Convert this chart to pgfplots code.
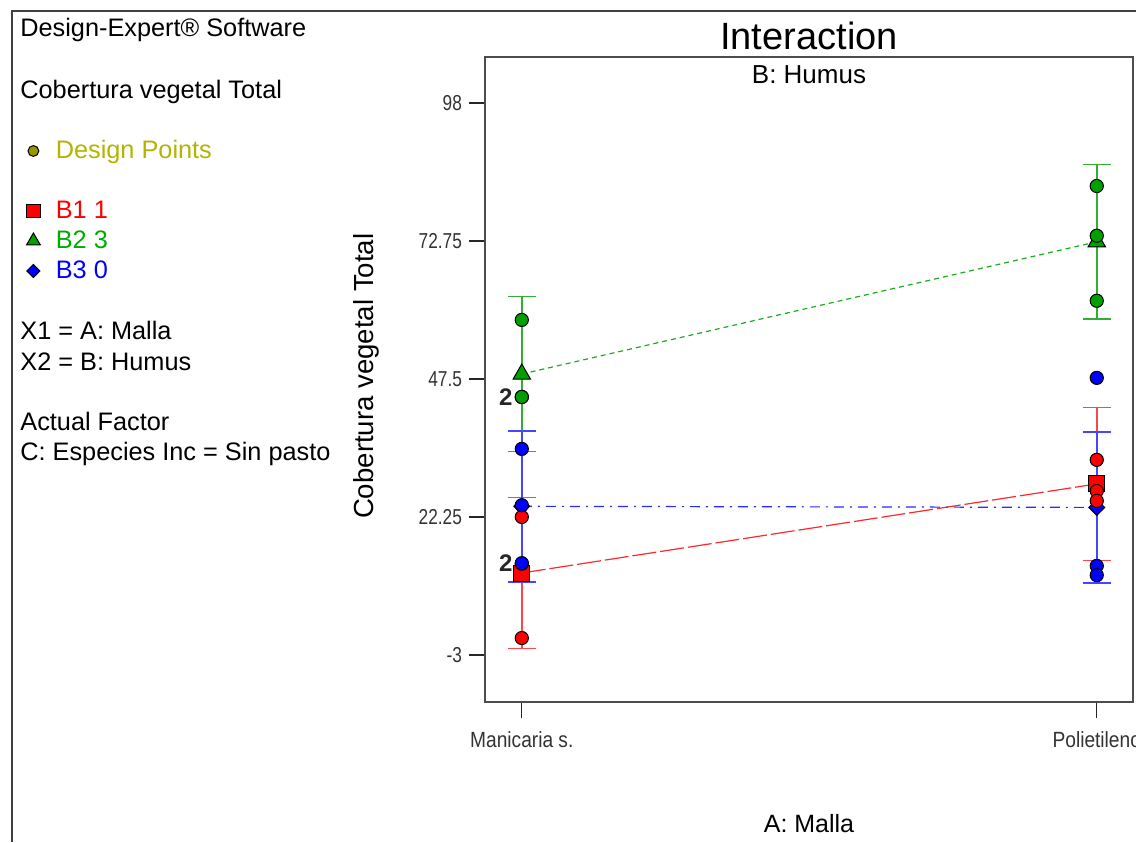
\documentclass[border=0pt]{standalone}
\usepackage{fontspec}
\setmainfont{Liberation Sans}
\newfontfamily\narrowfont[FakeStretch=0.8]{Liberation Sans}
\newfontfamily\xnarrowfont[FakeStretch=0.87]{Liberation Sans}
\usepackage{pgfplots}
\pgfplotsset{compat=1.18}
\definecolor{dred}{RGB}{255,0,0}
\definecolor{dgreen}{RGB}{0,160,0}
\definecolor{dblue}{RGB}{0,0,255}
\definecolor{ered}{RGB}{255,70,70}
\definecolor{egreen}{RGB}{50,175,50}
\definecolor{eblue}{RGB}{70,70,255}
\definecolor{lred}{RGB}{255,40,40}
\definecolor{lgreen}{RGB}{30,170,30}
\definecolor{lblue}{RGB}{40,40,255}
\definecolor{olivemark}{RGB}{150,150,0}
\definecolor{olivetext}{RGB}{180,180,0}
\definecolor{txtgreen}{RGB}{0,170,0}
\begin{document}
\begin{tikzpicture}
\useasboundingbox (0,0) rectangle (568pt,421pt);
\clip (0,0) rectangle (568pt,421pt);
\begin{axis}[
  at={(242.5pt,70pt)}, anchor=south west,
  scale only axis, width=324pt, height=322.5pt,
  xmin=-0.064, xmax=1.063, ymin=-11.6, ymax=106.4,
  axis line style={black!70, line width=1pt},
  xtick={0,1}, xticklabels={Manicaria s., Polietileno},
  ytick={-3,22.25,47.5,72.75,98}, yticklabels={-3,22.25,47.5,72.75,98},
  tick pos=left, tick align=outside, major tick length=8pt,
  major tick style={black!85, line width=0.6pt},
  x tick label style={font=\xnarrowfont\fontsize{11}{12}\selectfont, text=black!80, yshift=-3pt},
  y tick label style={font=\narrowfont\fontsize{10.8}{12}\selectfont, text=black!80},
  title={Interaction},
  title style={at={(axis description cs:0.5,1)}, anchor=base, yshift=-2.5pt, font=\fontsize{19}{22}\selectfont},
  xlabel={A: Malla},
  xlabel style={at={(axis description cs:0.5,0)}, anchor=base, yshift=-65pt, font=\fontsize{12.5}{15}\selectfont},
  ylabel={Cobertura vegetal Total},
  ylabel style={at={(axis description cs:-0.1728,0.505)}, anchor=base, font=\fontsize{13.8}{16}\selectfont},
  legend style={at={(axis description cs:-0.7083,0.8729)}, anchor=north west, draw=none, fill=none,
    inner sep=0pt, outer sep=0pt, column sep=7.5pt, row sep=0pt,
    font=\fontsize{12.65}{15}\selectfont,
    nodes={inner sep=0pt, text height=10pt, text depth=5pt}},
  legend cell align=left,
  legend image code/.code={\path (-3.5pt,-5pt) (3.5pt,5pt); \draw[#1] plot coordinates {(0pt,1.5pt)};},
]
\addlegendimage{only marks, mark=*, mark size=2.7pt, mark options={fill=olivemark, draw=black, line width=0.5pt}}
\addlegendentry[text=olivetext]{Design Points}
\addlegendimage{empty legend}
\addlegendentry{}
\addlegendimage{only marks, mark=square*, mark size=3.4pt, mark options={fill=dred, draw=black, line width=0.5pt}}
\addlegendentry[text=dred]{B1 1}
\addlegendimage{only marks, mark=triangle*, mark size=4pt, mark options={fill=dgreen, draw=black, line width=0.5pt}}
\addlegendentry[text=txtgreen]{B2 3}
\addlegendimage{only marks, mark=square*, mark size=2.3pt, mark options={rotate=45, fill=dblue, draw=black, line width=0.5pt}}
\addlegendentry[text=dblue]{B3 0}

% mean lines
\addplot[forget plot, lred, dash pattern=on 12pt off 2pt, line width=0.6pt] coordinates {(0,12.0) (1,28.3)};
\addplot[forget plot, lgreen, dash pattern=on 2.5pt off 2pt, line width=0.6pt] coordinates {(0,48.4) (1,72.6)};
\addplot[forget plot, lblue, dash pattern=on 5pt off 3pt on 1pt off 3pt, line width=0.6pt] coordinates {(0,24.2) (1,24.0)};

% means with LSD bars
\addplot[forget plot, only marks, mark=square*, mark size=4pt, mark options={fill=dred, draw=black, line width=0.5pt},
  error bars/.cd, y dir=both, y explicit, error bar style={color=ered, line width=0.8pt},
  error mark options={rotate=90, ered, mark size=7pt, line width=0.8pt}]
  coordinates {(0,12.0) +- (0,13.8) (1,28.3) +- (0,14.0)};
\addplot[forget plot, only marks, mark=triangle*, mark size=5pt, mark options={fill=dgreen, draw=black, line width=0.5pt},
  error bars/.cd, y dir=both, y explicit, error bar style={color=egreen, line width=0.8pt},
  error mark options={rotate=90, egreen, mark size=7pt, line width=0.8pt}]
  coordinates {(0,48.4) +- (0,14.2) (1,72.6) +- (0,14.1)};
\addplot[forget plot, only marks, mark=square*, mark size=2.8pt, mark options={rotate=45, fill=dblue, draw=black, line width=0.5pt},
  error bars/.cd, y dir=both, y explicit, error bar style={color=eblue, line width=0.8pt},
  error mark options={rotate=90, eblue, mark size=7pt, line width=0.8pt}]
  coordinates {(0,24.2) +- (0,13.8) (1,24.0) +- (0,13.8)};

% design points
\addplot[forget plot, only marks, mark=*, mark size=3.3pt, mark options={fill=dred, draw=black, line width=0.5pt}]
  coordinates {(0,22.25) (0,0.1) (0,13.7) (1,32.7) (1,27.0) (1,25.2)};
\addplot[forget plot, only marks, mark=*, mark size=3.3pt, mark options={fill=dgreen, draw=black, line width=0.5pt}]
  coordinates {(0,58.3) (0,44.2) (0,44.2) (1,82.8) (1,73.7) (1,61.8)};
\addplot[forget plot, only marks, mark=*, mark size=3.3pt, mark options={fill=dblue, draw=black, line width=0.5pt}]
  coordinates {(0,34.7) (0,24.4) (0,13.8) (1,47.7) (1,13.3) (1,11.6)};

\node[font=\bfseries\fontsize{12}{14}\selectfont, text=black!85, xshift=-8pt] at (axis cs:0,44.2) {2};
\node[font=\bfseries\fontsize{12}{14}\selectfont, text=black!85, xshift=-8pt] at (axis cs:0,13.8) {2};
\node[anchor=base, yshift=-13.5pt, font=\fontsize{13}{15}\selectfont] at (axis description cs:0.5,1) {B: Humus};
\end{axis}
\begin{scope}[x=0.5pt, y=0.5pt]
\draw[black!75, line width=1pt] (12,0) -- (12,831) -- (1136,831);
\begin{scope}[every node/.style={anchor=base west, inner sep=0pt, font=\fontsize{12.65}{15}\selectfont}]
\node at (20,805) {Design-Expert® Software};
\node at (20,743) {Cobertura vegetal Total};
\node at (20,502) {X1 = A: Malla};
\node at (20,471) {X2 = B: Humus};
\node at (20,411) {Actual Factor};
\node at (20,381) {C: Especies Inc = Sin pasto};
\end{scope}
\end{scope}
\end{tikzpicture}
\end{document}
